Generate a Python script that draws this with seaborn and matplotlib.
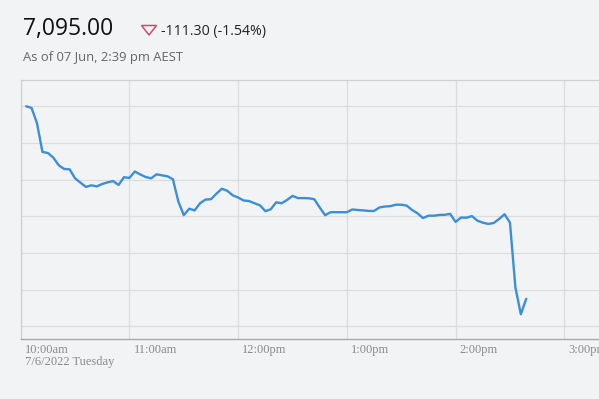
import numpy as np
import pandas as pd
import matplotlib
matplotlib.use("Agg")
import matplotlib.pyplot as plt
import matplotlib.dates as mdates
import matplotlib.transforms as mtransforms
from matplotlib.patches import Polygon
import seaborn as sns

# ---- data ----
prices = [
    7200.0, 7199.1, 7190.7, 7175.1, 7174.5, 7172.0, 7167.8, 7165.8, 7165.6, 7160.7,
    7158.3, 7156.0, 7156.9, 7156.3, 7157.6, 7158.5, 7159.2, 7157.1, 7161.3, 7160.9,
    7164.4, 7162.8, 7161.4, 7160.7, 7162.9, 7162.3, 7161.8, 7160.2, 7148.0, 7140.6,
    7144.1, 7143.2, 7147.1, 7149.1, 7149.3, 7152.3, 7155.0, 7153.9, 7151.4, 7150.2,
    7148.6, 7148.3, 7147.1, 7146.0, 7142.8, 7143.8, 7147.6, 7147.1, 7148.9, 7151.1,
    7149.9, 7149.9, 7149.8, 7149.3, 7144.8, 7140.6, 7142.2, 7142.2, 7142.2, 7142.2,
    7143.7, 7143.4, 7143.2, 7142.9, 7142.9, 7144.8, 7145.3, 7145.5, 7146.3, 7146.3,
    7145.8, 7143.4, 7141.6, 7139.0, 7140.3, 7140.3, 7140.7, 7140.8, 7141.3, 7136.9,
    7139.3, 7139.2, 7140.1, 7137.6, 7136.5, 7135.8, 7136.3, 7138.5, 7141.1, 7136.5,
    7101.2, 7086.5, 7095.0,
]
times = pd.date_range("2022-06-07 10:03", periods=len(prices), freq="3min")
tick_times = pd.to_datetime(["2022-06-07 10:00", "2022-06-07 11:00", "2022-06-07 12:00",
                             "2022-06-07 13:00", "2022-06-07 14:00", "2022-06-07 15:00"])
tick_labels = ["10:00am\n7/6/2022 Tuesday", "11:00am", "12:00pm", "1:00pm", "2:00pm", "3:00pm"]
y_grid = [7080, 7100, 7120, 7140, 7160, 7180, 7200]

last_price = "7,095.00"
change_text = "-111.30 (-1.54%)"
asof_text = "As of 07 Jun, 2:39 pm AEST"

df = pd.DataFrame({"time": times, "price": prices})

W, H = 599, 399
bg = "#F2F3F5"
sns.set_theme(style="white")
fig = plt.figure(figsize=(W / 100, H / 100), dpi=100, facecolor=bg)
ax = fig.add_axes([20.7 / W, 1 - 339.3 / H, 1 - 20.7 / W + 0.002, (339.3 - 80) / H])
ax.set_facecolor(bg)

sns.lineplot(data=df, x="time", y="price", ax=ax, color="#3A8FD8", linewidth=1.7)

x0 = pd.Timestamp("2022-06-07 10:00")
x1 = x0 + pd.Timedelta(hours=5.33)
ax.set_xlim(x0, x1)
ax.set_ylim(7072.85, 7214.35)

ax.set_yticks(y_grid)
ax.set_yticklabels([])
ax.tick_params(axis="y", length=0)
ax.set_xticks(tick_times)
ax.set_xticklabels(tick_labels, fontfamily="Liberation Serif", fontsize=9, color="#8A8A8A",
                   ha="left", linespacing=1.0)
ax.tick_params(axis="x", length=5, width=0.8, color="#BDBDBD", pad=0)
offset = mtransforms.ScaledTranslation(4 / 100, 2 / 100, fig.dpi_scale_trans)
for lab in ax.get_xticklabels():
    lab.set_transform(lab.get_transform() + offset)

ax.grid(True, color="#DCDCDC", linewidth=0.9)
ax.set_axisbelow(True)
ax.set_xlabel("")
ax.set_ylabel("")
for side in ["left", "top"]:
    ax.spines[side].set_color("#D0D0D0")
    ax.spines[side].set_linewidth(0.9)
ax.spines["bottom"].set_color("#A8A8A8")
ax.spines["bottom"].set_linewidth(1.0)
ax.spines["right"].set_visible(False)

# ---- header ----
fig.text(23 / W, 1 - 29 / H, last_price, fontsize=16.5, fontfamily="Open Sans",
         fontweight="medium", color="#111111", va="center", ha="left")
tri = Polygon([(141.5 / W, 1 - 25.5 / H), (156.5 / W, 1 - 25.5 / H), (149 / W, 1 - 35 / H)],
              closed=True, fill=False, edgecolor="#C4506A", linewidth=1.1,
              transform=fig.transFigure)
fig.add_artist(tri)
fig.text(161 / W, 1 - 31 / H, change_text, fontsize=10.2, fontfamily="Open Sans",
         color="#222222", va="center", ha="left")
fig.text(23 / W, 1 - 57 / H, asof_text, fontsize=9.4, fontfamily="Open Sans",
         color="#666666", va="center", ha="left")

fig.savefig("out.png", dpi=100, facecolor=bg)
